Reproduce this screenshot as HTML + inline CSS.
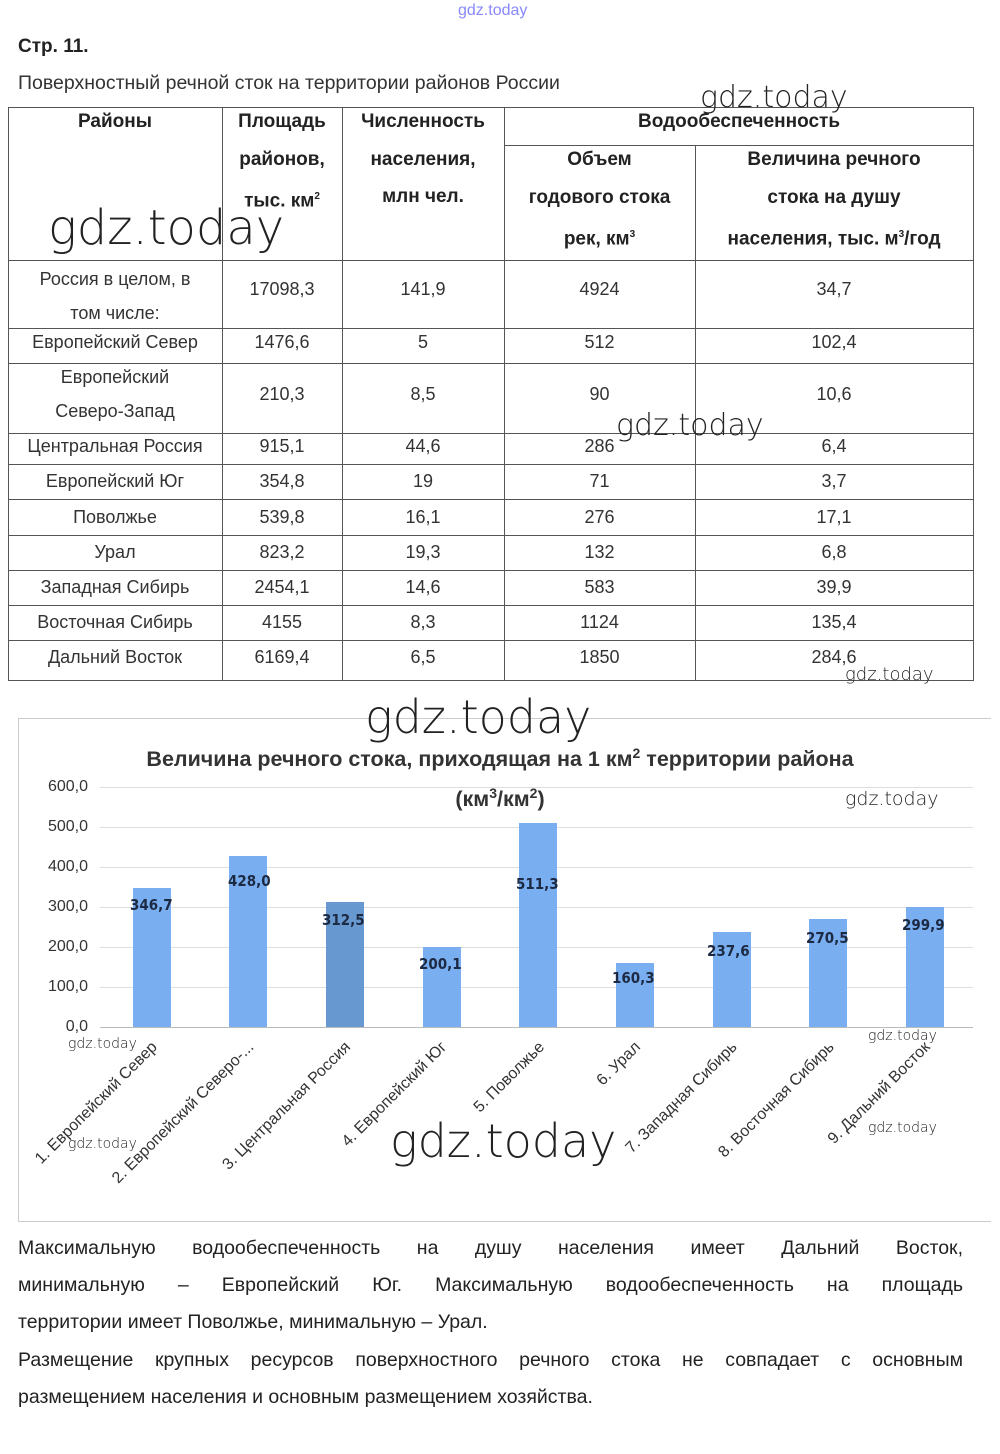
<!DOCTYPE html>
<html><head><meta charset="utf-8"><style>
body{margin:0;width:1000px;height:1454px;background:#fff;position:relative;font-family:"Liberation Sans",sans-serif;color:#222;overflow:hidden}
.a{position:absolute}
.h{position:absolute;background:#555;height:1px}
.v{position:absolute;background:#555;width:1px}
.c{position:absolute;text-align:center;font-size:18px;color:#333}
.hd{font-weight:bold;color:#222;font-size:19px;line-height:37.5px}
.wm{position:absolute;font-family:"DejaVu Sans",sans-serif;color:#222;font-weight:200}
.bar{position:absolute;background:#79aff0;width:38px}
.lbl{position:absolute;font-weight:bold;font-size:15px;color:#1d2a44;font-family:"DejaVu Sans Condensed","Liberation Sans Narrow",sans-serif}
.yt{position:absolute;font-size:16px;color:#333;width:50px;text-align:right;left:38px}
.xl{position:absolute;font-size:16px;color:#333;white-space:nowrap;transform-origin:right center;transform:rotate(-45deg)}
.p{position:absolute;left:18px;width:945px;font-size:19.5px;line-height:37px;text-align:justify;text-align-last:justify;color:#222}
</style></head><body>
<div class="a" style="left:458px;top:2px;font-size:16px;color:#88f">gdz.today</div>
<div class="a" style="left:18px;top:36px;font-size:19px;font-weight:bold">Стр. 11.</div>
<div class="a" style="left:18px;top:72px;font-size:19.5px;color:#333">Поверхностный речной сток на территории районов России</div>
<div class="h" style="left:8px;top:107px;width:966px"></div>
<div class="h" style="left:504px;top:145px;width:470px"></div>
<div class="h" style="left:8px;top:260px;width:966px"></div>
<div class="h" style="left:8px;top:328px;width:966px"></div>
<div class="h" style="left:8px;top:363px;width:966px"></div>
<div class="h" style="left:8px;top:433px;width:966px"></div>
<div class="h" style="left:8px;top:464px;width:966px"></div>
<div class="h" style="left:8px;top:499px;width:966px"></div>
<div class="h" style="left:8px;top:535px;width:966px"></div>
<div class="h" style="left:8px;top:570px;width:966px"></div>
<div class="h" style="left:8px;top:605px;width:966px"></div>
<div class="h" style="left:8px;top:640px;width:966px"></div>
<div class="h" style="left:8px;top:680px;width:966px"></div>
<div class="v" style="left:8px;top:107px;height:574px"></div>
<div class="v" style="left:222px;top:107px;height:574px"></div>
<div class="v" style="left:342px;top:107px;height:574px"></div>
<div class="v" style="left:504px;top:107px;height:574px"></div>
<div class="v" style="left:695px;top:145px;height:536px"></div>
<div class="v" style="left:973px;top:107px;height:574px"></div>
<div class="c hd" style="left:8px;width:214px;top:103px">Районы</div>
<div class="c hd" style="left:222px;width:120px;top:103px">Площадь<br>районов,<br>тыс. км<sup style="font-size:10px">2</sup></div>
<div class="c hd" style="left:342px;width:162px;top:103px">Численность<br>населения,<br>млн чел.</div>
<div class="c hd" style="left:504px;width:470px;top:103px">Водообеспеченность</div>
<div class="c hd" style="left:504px;width:191px;top:141px">Объем<br>годового стока<br>рек, км<sup style="font-size:10px">3</sup></div>
<div class="c hd" style="left:695px;width:278px;top:141px">Величина речного<br>стока на душу<br>населения, тыс. м<sup style="font-size:10px">3</sup>/год</div>
<div class="c" style="left:8px;width:214px;top:262px;line-height:34px">Россия в целом, в<br>том числе:</div>
<div class="c" style="left:222px;width:120px;top:279px">17098,3</div>
<div class="c" style="left:342px;width:162px;top:279px">141,9</div>
<div class="c" style="left:504px;width:191px;top:279px">4924</div>
<div class="c" style="left:695px;width:278px;top:279px">34,7</div>
<div class="c" style="left:8px;width:214px;top:332px">Европейский Север</div>
<div class="c" style="left:222px;width:120px;top:332px">1476,6</div>
<div class="c" style="left:342px;width:162px;top:332px">5</div>
<div class="c" style="left:504px;width:191px;top:332px">512</div>
<div class="c" style="left:695px;width:278px;top:332px">102,4</div>
<div class="c" style="left:8px;width:214px;top:360px;line-height:34px">Европейский<br>Северо-Запад</div>
<div class="c" style="left:222px;width:120px;top:384px">210,3</div>
<div class="c" style="left:342px;width:162px;top:384px">8,5</div>
<div class="c" style="left:504px;width:191px;top:384px">90</div>
<div class="c" style="left:695px;width:278px;top:384px">10,6</div>
<div class="c" style="left:8px;width:214px;top:436px">Центральная Россия</div>
<div class="c" style="left:222px;width:120px;top:436px">915,1</div>
<div class="c" style="left:342px;width:162px;top:436px">44,6</div>
<div class="c" style="left:504px;width:191px;top:436px">286</div>
<div class="c" style="left:695px;width:278px;top:436px">6,4</div>
<div class="c" style="left:8px;width:214px;top:471px">Европейский Юг</div>
<div class="c" style="left:222px;width:120px;top:471px">354,8</div>
<div class="c" style="left:342px;width:162px;top:471px">19</div>
<div class="c" style="left:504px;width:191px;top:471px">71</div>
<div class="c" style="left:695px;width:278px;top:471px">3,7</div>
<div class="c" style="left:8px;width:214px;top:507px">Поволжье</div>
<div class="c" style="left:222px;width:120px;top:507px">539,8</div>
<div class="c" style="left:342px;width:162px;top:507px">16,1</div>
<div class="c" style="left:504px;width:191px;top:507px">276</div>
<div class="c" style="left:695px;width:278px;top:507px">17,1</div>
<div class="c" style="left:8px;width:214px;top:542px">Урал</div>
<div class="c" style="left:222px;width:120px;top:542px">823,2</div>
<div class="c" style="left:342px;width:162px;top:542px">19,3</div>
<div class="c" style="left:504px;width:191px;top:542px">132</div>
<div class="c" style="left:695px;width:278px;top:542px">6,8</div>
<div class="c" style="left:8px;width:214px;top:577px">Западная Сибирь</div>
<div class="c" style="left:222px;width:120px;top:577px">2454,1</div>
<div class="c" style="left:342px;width:162px;top:577px">14,6</div>
<div class="c" style="left:504px;width:191px;top:577px">583</div>
<div class="c" style="left:695px;width:278px;top:577px">39,9</div>
<div class="c" style="left:8px;width:214px;top:612px">Восточная Сибирь</div>
<div class="c" style="left:222px;width:120px;top:612px">4155</div>
<div class="c" style="left:342px;width:162px;top:612px">8,3</div>
<div class="c" style="left:504px;width:191px;top:612px">1124</div>
<div class="c" style="left:695px;width:278px;top:612px">135,4</div>
<div class="c" style="left:8px;width:214px;top:647px">Дальний Восток</div>
<div class="c" style="left:222px;width:120px;top:647px">6169,4</div>
<div class="c" style="left:342px;width:162px;top:647px">6,5</div>
<div class="c" style="left:504px;width:191px;top:647px">1850</div>
<div class="c" style="left:695px;width:278px;top:647px">284,6</div>
<div class="wm" style="left:48px;top:200px;font-size:48px">gdz.today</div>
<div class="wm" style="left:700px;top:80px;font-size:30px">gdz.today</div>
<div class="wm" style="left:616px;top:408px;font-size:30px">gdz.today</div>
<div class="wm" style="left:845px;top:664px;font-size:18px">gdz.today</div>
<div class="a" style="left:18px;top:718px;width:972px;height:502px;border-top:1px solid #ccc;border-left:1px solid #ccc;border-bottom:1px solid #ccc"></div>
<div class="a" style="left:40px;top:736px;width:920px;text-align:center;font-size:21.5px;font-weight:bold;color:#333;line-height:34px">Величина речного стока, приходящая на 1 км<sup style="font-size:14px">2</sup> территории района<br>(км<sup style="font-size:14px">3</sup>/км<sup style="font-size:14px">2</sup>)</div>
<div class="h" style="left:100px;top:787px;width:873px;background:#ddd"></div>
<div class="h" style="left:100px;top:827px;width:873px;background:#ddd"></div>
<div class="h" style="left:100px;top:867px;width:873px;background:#ddd"></div>
<div class="h" style="left:100px;top:907px;width:873px;background:#ddd"></div>
<div class="h" style="left:100px;top:947px;width:873px;background:#ddd"></div>
<div class="h" style="left:100px;top:987px;width:873px;background:#ddd"></div>
<div class="h" style="left:100px;top:1027px;width:873px;background:#bbb"></div>
<div class="yt" style="top:778px">600,0</div>
<div class="yt" style="top:818px">500,0</div>
<div class="yt" style="top:858px">400,0</div>
<div class="yt" style="top:898px">300,0</div>
<div class="yt" style="top:938px">200,0</div>
<div class="yt" style="top:978px">100,0</div>
<div class="yt" style="top:1018px">0,0</div>
<div class="bar" style="left:133px;top:888px;height:139px"></div>
<div class="bar" style="left:229px;top:856px;height:171px"></div>
<div class="bar" style="left:326px;top:902px;height:125px;background:#6898d0"></div>
<div class="bar" style="left:423px;top:947px;height:80px"></div>
<div class="bar" style="left:519px;top:823px;height:204px"></div>
<div class="bar" style="left:616px;top:963px;height:64px"></div>
<div class="bar" style="left:713px;top:932px;height:95px"></div>
<div class="bar" style="left:809px;top:919px;height:108px"></div>
<div class="bar" style="left:906px;top:907px;height:120px"></div>
<div class="lbl" style="left:130px;top:896px">346,7</div>
<div class="lbl" style="left:228px;top:872px">428,0</div>
<div class="lbl" style="left:322px;top:911px">312,5</div>
<div class="lbl" style="left:419px;top:955px">200,1</div>
<div class="lbl" style="left:516px;top:875px">511,3</div>
<div class="lbl" style="left:612px;top:969px">160,3</div>
<div class="lbl" style="left:707px;top:942px">237,6</div>
<div class="lbl" style="left:806px;top:929px">270,5</div>
<div class="lbl" style="left:902px;top:916px">299,9</div>
<div class="xl" style="right:845px;top:1036px">1. Европейский Север</div>
<div class="xl" style="right:748px;top:1036px">2. Европейский Северо-...</div>
<div class="xl" style="right:652px;top:1036px">3. Центральная Россия</div>
<div class="xl" style="right:555px;top:1036px">4. Европейский Юг</div>
<div class="xl" style="right:458px;top:1036px">5. Поволжье</div>
<div class="xl" style="right:362px;top:1036px">6. Урал</div>
<div class="xl" style="right:265px;top:1036px">7. Западная Сибирь</div>
<div class="xl" style="right:168px;top:1036px">8. Восточная Сибирь</div>
<div class="xl" style="right:72px;top:1036px">9. Дальний Восток</div>
<div class="wm" style="left:365px;top:690px;font-size:46px">gdz.today</div>
<div class="wm" style="left:390px;top:1114px;font-size:46px">gdz.today</div>
<div class="wm" style="left:845px;top:788px;font-size:19px">gdz.today</div>
<div class="wm" style="left:68px;top:1036px;font-size:14px">gdz.today</div>
<div class="wm" style="left:68px;top:1136px;font-size:14px">gdz.today</div>
<div class="wm" style="left:868px;top:1028px;font-size:14px">gdz.today</div>
<div class="wm" style="left:868px;top:1120px;font-size:14px">gdz.today</div>
<div class="p" style="top:1230px">Максимальную водообеспеченность на душу населения имеет Дальний Восток,</div>
<div class="p" style="top:1267px">минимальную – Европейский Юг. Максимальную водообеспеченность на площадь</div>
<div class="p" style="top:1304px;text-align-last:left">территории имеет Поволжье, минимальную – Урал.</div>
<div class="p" style="top:1342px">Размещение крупных ресурсов поверхностного речного стока не совпадает с основным</div>
<div class="p" style="top:1379px;text-align-last:left">размещением населения и основным размещением хозяйства.</div>
</body></html>
